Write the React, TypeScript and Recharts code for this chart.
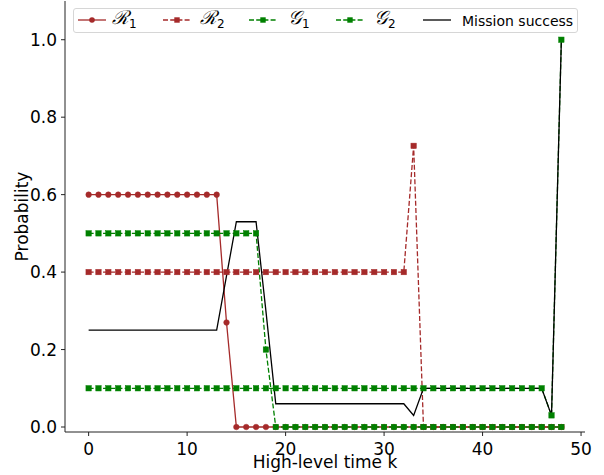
import React from "react";
import { LineChart, Line, XAxis, YAxis, Label } from "recharts";

// high-level time steps
const K = [0, 1, 2, 3, 4, 5, 6, 7, 8, 9, 10, 11, 12, 13, 14, 15, 16, 17, 18, 19, 20, 21, 22, 23, 24, 25, 26, 27, 28, 29, 30, 31, 32, 33, 34, 35, 36, 37, 38, 39, 40, 41, 42, 43, 44, 45, 46, 47, 48];

const R1 = [0.6, 0.6, 0.6, 0.6, 0.6, 0.6, 0.6, 0.6, 0.6, 0.6, 0.6, 0.6, 0.6, 0.6, 0.27, 0, 0, 0, 0, 0, 0, 0, 0, 0, 0, 0, 0, 0, 0, 0, 0, 0, 0, 0, 0, 0, 0, 0, 0, 0, 0, 0, 0, 0, 0, 0, 0, 0, 0];
const R2 = [0.4, 0.4, 0.4, 0.4, 0.4, 0.4, 0.4, 0.4, 0.4, 0.4, 0.4, 0.4, 0.4, 0.4, 0.4, 0.4, 0.4, 0.4, 0.4, 0.4, 0.4, 0.4, 0.4, 0.4, 0.4, 0.4, 0.4, 0.4, 0.4, 0.4, 0.4, 0.4, 0.4, 0.726, 0, 0, 0, 0, 0, 0, 0, 0, 0, 0, 0, 0, 0, 0, 0];
const G1 = [0.5, 0.5, 0.5, 0.5, 0.5, 0.5, 0.5, 0.5, 0.5, 0.5, 0.5, 0.5, 0.5, 0.5, 0.5, 0.5, 0.5, 0.5, 0.2, 0, 0, 0, 0, 0, 0, 0, 0, 0, 0, 0, 0, 0, 0, 0, 0, 0, 0, 0, 0, 0, 0, 0, 0, 0, 0, 0, 0, 0, 0];
const G2 = [0.1, 0.1, 0.1, 0.1, 0.1, 0.1, 0.1, 0.1, 0.1, 0.1, 0.1, 0.1, 0.1, 0.1, 0.1, 0.1, 0.1, 0.1, 0.1, 0.1, 0.1, 0.1, 0.1, 0.1, 0.1, 0.1, 0.1, 0.1, 0.1, 0.1, 0.1, 0.1, 0.1, 0.1, 0.1, 0.1, 0.1, 0.1, 0.1, 0.1, 0.1, 0.1, 0.1, 0.1, 0.1, 0.1, 0.1, 0.03, 1.0];
const SUCCESS = [0.25, 0.25, 0.25, 0.25, 0.25, 0.25, 0.25, 0.25, 0.25, 0.25, 0.25, 0.25, 0.25, 0.25, 0.39, 0.53, 0.53, 0.53, 0.3, 0.06, 0.06, 0.06, 0.06, 0.06, 0.06, 0.06, 0.06, 0.06, 0.06, 0.06, 0.06, 0.06, 0.06, 0.03, 0.1, 0.1, 0.1, 0.1, 0.1, 0.1, 0.1, 0.1, 0.1, 0.1, 0.1, 0.1, 0.1, 0.03, 1.0];

const X_TICKS = [0, 10, 20, 30, 40, 50];
const Y_TICKS = [0, 0.2, 0.4, 0.6, 0.8, 1.0];

const BROWN = "#a52a2a";
const GREEN = "#008000";
const FONT = "'DejaVu Sans', sans-serif";

const data = K.map((k, i) => ({ k, r1: R1[i], r2: R2[i], g1: G1[i], g2: G2[i], success: SUCCESS[i] }));

const circleDot = (color: string) => (p: any) => (
  <circle key={`c-${p.index}`} cx={p.cx} cy={p.cy} r={2.8} fill={color} stroke={color} strokeWidth={0.5} />
);
const squareDot = (color: string) => (p: any) => (
  <rect key={`s-${p.index}`} x={p.cx - 2.7} y={p.cy - 2.7} width={5.4} height={5.4} fill={color} stroke={color} strokeWidth={0.5} />
);

const Icon: React.FC<{ color: string; dash?: string; marker?: "circle" | "square" }> = ({ color, dash, marker }) => (
  <svg width={28} height={12} style={{ display: "block" }}>
    <line x1={0} y1={6} x2={28} y2={6} stroke={color} strokeWidth={1.3} strokeDasharray={dash} />
    {marker === "circle" && <circle cx={14} cy={6} r={2.8} fill={color} />}
    {marker === "square" && <rect x={11.3} y={3.3} width={5.4} height={5.4} fill={color} />}
  </svg>
);

const MathLabel: React.FC<{ sym: string; sub: string }> = ({ sym, sub }) => (
  <span style={{ fontFamily: "'DejaVu Serif', serif", fontStyle: "italic", fontSize: 19, whiteSpace: "nowrap" }}>
    {sym}
    <sub style={{ fontFamily: FONT, fontStyle: "normal", fontSize: 12, verticalAlign: -4 }}>{sub}</sub>
  </span>
);

// icon / label left offsets inside the legend frame
const entries = [
  { label: <MathLabel sym="ℛ" sub="1" />, color: BROWN, marker: "circle" as const, icon: 4, text: 38 },
  { label: <MathLabel sym="ℛ" sub="2" />, color: BROWN, dash: "5 2.2", marker: "square" as const, icon: 89, text: 126 },
  { label: <MathLabel sym="𝒢" sub="1" />, color: GREEN, dash: "5 2.2", marker: "square" as const, icon: 175, text: 214 },
  { label: <MathLabel sym="𝒢" sub="2" />, color: GREEN, dash: "5 2.2", marker: "square" as const, icon: 262, text: 300 },
  { label: <span>Mission success</span>, color: "#000", icon: 349, text: 388 },
];

const LegendBox = () => (
  <div
    style={{
      position: "absolute",
      left: 73,
      top: 8,
      width: 505,
      height: 25,
      boxSizing: "border-box",
      border: "1px solid #d6d6d6",
      borderRadius: 3,
      background: "rgba(255,255,255,0.85)",
      fontFamily: FONT,
      fontSize: 14,
      color: "#000",
    }}
  >
    {entries.map((e, i) => (
      <React.Fragment key={i}>
        <div style={{ position: "absolute", left: e.icon, top: 5 }}>
          <Icon color={e.color} dash={e.dash} marker={e.marker} />
        </div>
        <div style={{ position: "absolute", left: e.text, top: 0, height: 23, display: "flex", alignItems: "center", lineHeight: "14px" }}>
          {e.label}
        </div>
      </React.Fragment>
    ))}
  </div>
);

const YLabel = (props: any) => {
  const { viewBox } = props;
  const cy = viewBox.y + viewBox.height / 2;
  return (
    <text x={22} y={cy} transform={`rotate(-90, 22, ${cy})`} textAnchor="middle" dominantBaseline="central" fontSize={17} fontFamily={FONT} fill="#000">
      Probability
    </text>
  );
};

export default function App() {
  return (
    <div style={{ position: "absolute", left: 0, top: 0, width: 604, height: 475, background: "#fff", fontFamily: FONT }}>
      <LineChart width={604} height={475} data={data} margin={{ top: 1, right: 19, left: 0, bottom: 0 }}>
        <XAxis
          dataKey="k"
          type="number"
          domain={[-2.4, 50.4]}
          ticks={X_TICKS}
          allowDataOverflow
          height={43}
          tickSize={4}
          tickMargin={7}
          stroke="#222"
          tick={{ fill: "#000", fontSize: 17, fontFamily: FONT }}
        >
          <Label value="High-level time k" position="insideBottom" offset={7} fill="#000" fontSize={17} fontFamily={FONT} />
        </XAxis>
        <XAxis xAxisId="top" orientation="top" type="number" dataKey="k" domain={[-2.4, 50.4]} height={0} tick={false} tickLine={false} stroke="#222" />
        <YAxis
          type="number"
          domain={[-0.0129, 1.1]}
          ticks={Y_TICKS}
          allowDataOverflow
          width={65}
          tickSize={4}
          tickMargin={4}
          stroke="#222"
          tickFormatter={(v: number) => v.toFixed(1)}
          tick={{ fill: "#000", fontSize: 17, fontFamily: FONT }}
          label={<YLabel />}
        />
        <YAxis yAxisId="right" orientation="right" type="number" domain={[-0.0129, 1.1]} width={0} tick={false} tickLine={false} stroke="#222" />
        <Line dataKey="r1" stroke={BROWN} strokeWidth={1.3} dot={circleDot(BROWN)} activeDot={false} isAnimationActive={false} />
        <Line dataKey="r2" stroke={BROWN} strokeWidth={1.3} strokeDasharray="5 2.2" dot={squareDot(BROWN)} activeDot={false} isAnimationActive={false} />
        <Line dataKey="g1" stroke={GREEN} strokeWidth={1.3} strokeDasharray="5 2.2" dot={squareDot(GREEN)} activeDot={false} isAnimationActive={false} />
        <Line dataKey="g2" stroke={GREEN} strokeWidth={1.3} strokeDasharray="5 2.2" dot={squareDot(GREEN)} activeDot={false} isAnimationActive={false} />
        <Line dataKey="success" stroke="#000" strokeWidth={1.3} dot={false} activeDot={false} isAnimationActive={false} />
      </LineChart>
      <LegendBox />
    </div>
  );
}
